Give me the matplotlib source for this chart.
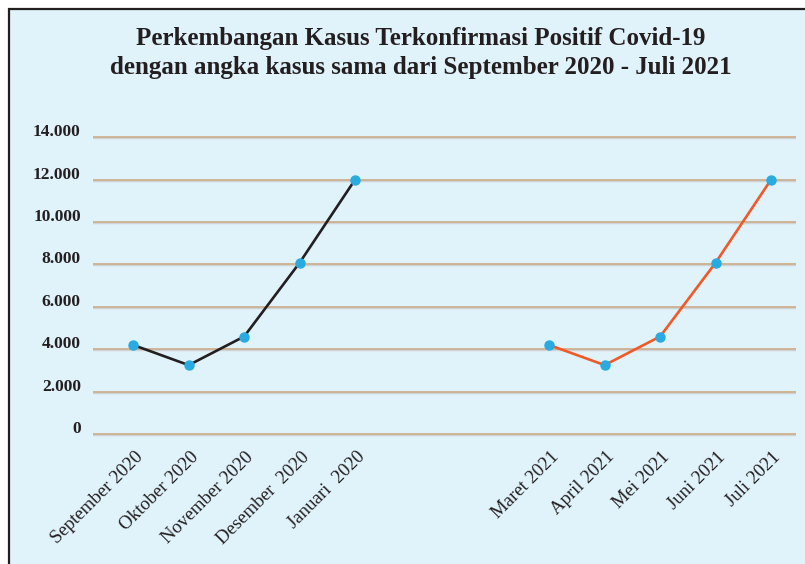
import matplotlib
matplotlib.use("Agg")
import matplotlib.pyplot as plt
from matplotlib.patches import Rectangle
from matplotlib.transforms import ScaledTranslation

# data
months_2020 = ["September 2020", "Oktober 2020", "November 2020", "Desember  2020", "Januari  2020"]
months_2021 = ["Maret 2021", "April 2021", "Mei 2021", "Juni 2021", "Juli 2021"]
cases_2020 = [4200, 3250, 4600, 8080, 12000]
cases_2021 = [4200, 3250, 4600, 8080, 12000]
y_ticks = [0, 2000, 4000, 6000, 8000, 10000, 12000, 14000]
y_labels = ["0", "2.000", "4.000", "6.000", "8.000", "10.000", "12.000", "14.000"]

GAP = 7.5  # position of the second group
BG = "#e0f2fa"
MARKER = "#29abe2"

fig = plt.figure(figsize=(8.05, 5.64), dpi=100)
fig.patch.set_facecolor("white")
fig.patches.append(Rectangle((8.5 / 805, -0.1), 1.2, 1 - 9.3 / 564 + 0.1,
                             transform=fig.transFigure, facecolor=BG,
                             edgecolor="#231f20", linewidth=1.6, zorder=-10))

ax = fig.add_axes([0.1159, 0.2117, 0.8729, 0.5637])
ax.set_facecolor("none")

x1 = list(range(len(months_2020)))
x2 = [GAP + i for i in range(len(months_2021))]

ax.plot(x1, cases_2020, color="#231f20", lw=1.9, zorder=3)
ax.plot(x2, cases_2021, color="#f05a28", lw=1.9, zorder=3)
ax.plot(x1 + x2, cases_2020 + cases_2021, "o", color=MARKER, ms=6.5, zorder=4, lw=0)

ax.set_xlim(-0.72, 11.95)
ax.set_ylim(-500, 14500)

# tan grid lines with a faint grey shadow below
shadow = ScaledTranslation(0, -1 / 100, fig.dpi_scale_trans)
for y in y_ticks:
    ax.axhline(y, color="#cfd3d4", lw=1.0, zorder=1).set_transform(
        ax.get_yaxis_transform() + shadow)
    ax.axhline(y, color="#c9a47e", lw=1.1, zorder=1.5)

ax.set_yticks(y_ticks)
ax.set_yticklabels(y_labels, family="Liberation Serif", fontweight="bold",
                   fontsize=12.5, color="#231f20")
ax.tick_params(axis="y", length=0, pad=9)
for lab in ax.get_yticklabels():
    lab.set_transform(lab.get_transform() + ScaledTranslation(0, 5 / 72, fig.dpi_scale_trans))

ax.set_xticks(x1 + x2)
ax.set_xticklabels(months_2020 + months_2021, rotation=45, ha="right", va="center",
                   rotation_mode="anchor", family="Liberation Serif",
                   fontsize=13.5, color="#231f20")
ax.tick_params(axis="x", length=0, pad=7)
for lab in ax.get_xticklabels():
    lab.set_transform(lab.get_transform() + ScaledTranslation(5 / 72, 0, fig.dpi_scale_trans))

for s in ax.spines.values():
    s.set_visible(False)

fig.text(421 / 805, 1 - 53 / 564,
         "Perkembangan Kasus Terkonfirmasi Positif Covid-19\n"
         "dengan angka kasus sama dari September 2020 - Juli 2021",
         ha="center", va="center", family="Liberation Serif", fontweight="bold",
         fontsize=18, color="#231f20", linespacing=1.3)

fig.savefig("out.png", dpi=100)
